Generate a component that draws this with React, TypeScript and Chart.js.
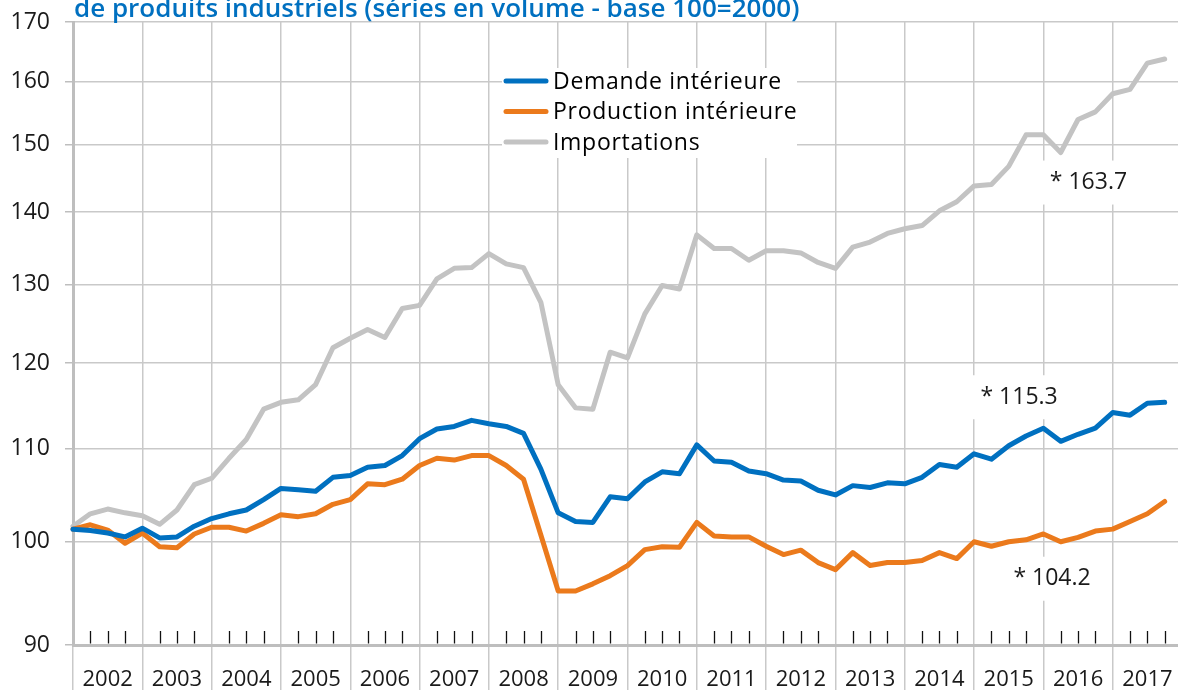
import React, { useEffect, useRef } from 'react';
import { Chart, registerables } from 'chart.js';

Chart.register(...registerables);

// ---- data (quarterly, 2002 T1 .. 2017 T4, base 100 = 2000) ----
const yearLabels = ['2002', '2003', '2004', '2005', '2006', '2007', '2008', '2009', '2010', '2011', '2012', '2013', '2014', '2015', '2016', '2017'];

const demandeInterieure = [
  101.3, 101.15, 100.9, 100.5, 101.4, 100.4, 100.5, 101.6,
  102.4, 102.9, 103.3, 104.4, 105.6, 105.45, 105.3, 106.8,
  107.0, 107.9, 108.1, 109.2, 111.1, 112.2, 112.5, 113.2,
  112.8, 112.5, 111.7, 107.7, 103.0, 102.1, 102.0, 104.7,
  104.5, 106.3, 107.4, 107.2, 110.4, 108.6, 108.45, 107.5,
  107.2, 106.5, 106.4, 105.4, 104.9, 105.9, 105.7, 106.2,
  106.1, 106.8, 108.2, 107.9, 109.4, 108.8, 110.3, 111.4,
  112.3, 110.8, 111.6, 112.3, 114.1, 113.8, 115.2, 115.3,
];

const productionInterieure = [
  101.3, 101.75, 101.2, 99.85, 100.9, 99.5, 99.4, 100.8,
  101.5, 101.5, 101.1, 101.9, 102.8, 102.6, 102.9, 103.9,
  104.4, 106.1, 106.0, 106.6, 108.1, 108.9, 108.7, 109.2,
  109.2, 108.1, 106.6, 100.7, 95.1, 95.1, 95.8, 96.6,
  97.6, 99.2, 99.5, 99.45, 102.0, 100.6, 100.5, 100.5,
  99.55, 98.7, 99.15, 97.9, 97.2, 98.9, 97.6, 97.9,
  97.9, 98.1, 98.9, 98.3, 100.0, 99.55, 100.0, 100.2,
  100.8, 100.0, 100.45, 101.1, 101.3, 102.1, 102.9, 104.2,
];

const importations = [
  101.6, 102.9, 103.4, 103.0, 102.7, 101.8, 103.3, 106.0,
  106.7, 108.9, 111.0, 114.5, 115.3, 115.6, 117.4, 121.9,
  123.1, 124.2, 123.2, 126.9, 127.3, 130.8, 132.2, 132.3,
  134.2, 132.8, 132.3, 127.7, 117.4, 114.65, 114.5, 121.35,
  120.65, 126.2, 129.9, 129.45, 136.8, 134.9, 134.9, 133.3,
  134.6, 134.6, 134.3, 133.0, 132.2, 135.1, 135.8, 137.0,
  137.65, 138.1, 140.2, 141.5, 143.8, 144.0, 146.7, 151.5,
  151.5, 148.8, 153.9, 155.1, 158.0, 158.7, 163.0, 163.7,
];

const yTickValues = [90, 100, 110, 120, 130, 140, 150, 160, 170];
const seriesLabels = ['Demande intérieure', 'Production intérieure', 'Importations'];
const titleText = 'de produits industriels (séries en volume - base 100=2000)';
const endValueLabels = ['* 163.7', '* 115.3', '* 104.2'];
// anchor of each end label, in data units (quarter index, index value)
const endValueAnchorsX = [58.6, 54.6, 56.5];
const endValueAnchorsY = [144.3, 115.9, 96.3];

// ---- styles ----
const FONT = '"Open Sans", "Noto Sans", sans-serif';
const BLUE = '#0070C0';
const ORANGE = '#EB7A1C';
const GREY = '#C3C3C3';
const GRID = '#C9C9C9';
const AXIS = '#BEBEBE';
const TEXT = '#1A1A1A';

const toXY = (arr: number[]) => arr.map((v, i) => ({ x: i, y: v }));

const quarterTicksPlugin = {
  id: 'quarterTicks',
  afterDraw(chart: any) {
    const { ctx, chartArea } = chart;
    const xs = chart.scales.x;
    ctx.save();
    ctx.strokeStyle = '#111';
    ctx.lineWidth = 1.3;
    const n = yearLabels.length * 4;
    for (let i = 1; i < n; i++) {
      if (i % 4 === 0) continue;
      const px = Math.round(xs.getPixelForValue(i)) + 0.5;
      ctx.beginPath();
      ctx.moveTo(px, chartArea.bottom - 14);
      ctx.lineTo(px, chartArea.bottom - 1.5);
      ctx.stroke();
    }
    ctx.restore();
  },
};

const endLabelsPlugin = {
  id: 'endLabels',
  afterDatasetsDraw(chart: any) {
    const { ctx } = chart;
    const xs = chart.scales.x;
    const ys = chart.scales.y;
    ctx.save();
    ctx.font = `23px ${FONT}`;
    ctx.textAlign = 'center';
    ctx.textBaseline = 'middle';
    endValueLabels.forEach((t, k) => {
      const cx = xs.getPixelForValue(endValueAnchorsX[k]);
      const cy = ys.getPixelForValue(endValueAnchorsY[k]);
      const w = ctx.measureText(t).width + 20;
      const h = 44;
      ctx.fillStyle = '#fff';
      ctx.fillRect(cx - w / 2, cy - h / 2, w, h);
      ctx.fillStyle = TEXT;
      ctx.fillText(t, cx, cy);
    });
    ctx.restore();
  },
};

const legendPlugin = {
  id: 'boxLegend',
  afterDatasetsDraw(chart: any) {
    const { ctx } = chart;
    const left = 502;
    const top = 68;
    const width = 295;
    const height = 90;
    ctx.save();
    ctx.fillStyle = '#fff';
    ctx.fillRect(left, top, width, height);
    ctx.font = `23px ${FONT}`;
    (ctx as any).letterSpacing = '0.7px';
    ctx.textAlign = 'left';
    ctx.textBaseline = 'middle';
    chart.data.datasets.forEach((ds: any, k: number) => {
      const y = 81 + k * 30.5;
      ctx.strokeStyle = ds.borderColor;
      ctx.lineWidth = 5;
      ctx.lineCap = 'round';
      ctx.beginPath();
      ctx.moveTo(left + 4, y);
      ctx.lineTo(left + 44, y);
      ctx.stroke();
      ctx.fillStyle = '#000';
      ctx.fillText(ds.label, left + 51, y + 1);
    });
    ctx.restore();
  },
};

const titlePlugin = {
  id: 'topTitle',
  afterDraw(chart: any) {
    const { ctx } = chart;
    ctx.save();
    ctx.font = `600 26px ${FONT}`;
    ctx.fillStyle = BLUE;
    ctx.textAlign = 'left';
    ctx.textBaseline = 'alphabetic';
    ctx.fillText(titleText, 74, 17);
    ctx.restore();
  },
};

export default function App() {
  const canvasRef = useRef<HTMLCanvasElement | null>(null);

  useEffect(() => {
    if (!canvasRef.current) return;
    const lineDs = (label: string, data: number[], color: string) => ({
      label,
      data: toXY(data),
      borderColor: color,
      backgroundColor: color,
      borderWidth: 5,
      pointRadius: 0,
      tension: 0,
      borderJoinStyle: 'round' as const,
      borderCapStyle: 'round' as const,
      clip: false as const,
    });
    const chart = new Chart(canvasRef.current, {
      type: 'line',
      data: {
        datasets: [
          lineDs(seriesLabels[0], demandeInterieure, BLUE),
          lineDs(seriesLabels[1], productionInterieure, ORANGE),
          lineDs(seriesLabels[2], importations, GREY),
        ],
      },
      options: {
        responsive: false,
        animation: false,
        devicePixelRatio: 1,
        layout: { padding: { top: 22, right: 8, left: 0, bottom: 0 } },
        plugins: {
          legend: { display: false },
          title: { display: false },
          tooltip: { enabled: false },
        },
        scales: {
          x: {
            type: 'linear',
            min: 0,
            max: yearLabels.length * 4,
            afterBuildTicks: (s: any) => {
              const t = yearLabels.map((_, k) => ({ value: k * 4 }));
              t.push({ value: yearLabels.length * 4 });
              s.ticks = t;
            },
            afterFit: (s: any) => {
              s.height = 45;
              s.paddingLeft = 0;
              s.paddingRight = 0;
            },
            grid: { color: GRID, lineWidth: 1.5, drawTicks: true, tickLength: 45, tickColor: GRID },
            border: { display: true, color: AXIS, width: 3 },
            ticks: {
              autoSkip: false,
              maxRotation: 0,
              minRotation: 0,
              labelOffset: 34.7,
              padding: -23,
              color: TEXT,
              font: { family: FONT, size: 22 },
              callback: (v: any) => yearLabels[Math.round(Number(v) / 4)] ?? '',
            },
          },
          y: {
            type: 'logarithmic',
            min: 90,
            max: 170,
            afterBuildTicks: (s: any) => {
              s.ticks = yTickValues.map((v) => ({ value: v }));
            },
            afterFit: (s: any) => {
              s.width = 73;
              s.paddingTop = 0;
              s.paddingBottom = 0;
            },
            grid: { color: GRID, lineWidth: 1.5, drawTicks: true, tickLength: 8, tickColor: AXIS },
            border: { display: true, color: AXIS, width: 3 },
            ticks: {
              padding: 15,
              color: TEXT,
              font: { family: FONT, size: 23 },
              callback: (v: any) => String(v),
            },
          },
        },
      },
      plugins: [quarterTicksPlugin, endLabelsPlugin, legendPlugin, titlePlugin],
    });
    return () => chart.destroy();
  }, []);

  return (
    <div style={{ position: 'absolute', left: 0, top: 0, width: 1178, height: 690, overflow: 'hidden', background: '#fff' }}>
      <canvas ref={canvasRef} width={1190} height={690} style={{ display: 'block', width: 1190, height: 690 }} />
    </div>
  );
}
